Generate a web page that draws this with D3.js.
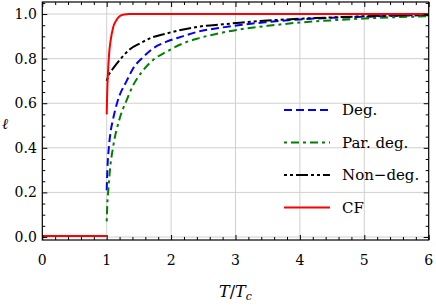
<!DOCTYPE html>
<html>
<head>
<meta charset="utf-8">
<script src="https://cdn.jsdelivr.net/npm/d3@7/dist/d3.min.js"></script>
<style>
  html, body { margin: 0; padding: 0; background: #fff; }
  #chart { width: 436px; height: 307px; }
</style>
</head>
<body>
<div id="chart"></div>
<script>
// Chart data
const xTicks = [0, 1, 2, 3, 4, 5, 6];
const yTicks = [0, 0.2, 0.4, 0.6, 0.8, 1.0];
const yTickLabels = ['0.0', '0.2', '0.4', '0.6', '0.8', '1.0'];

// Deg. (blue dashed)
const degT = [1, 1.01, 1.03, 1.06, 1.1, 1.17, 1.31, 1.41, 1.57, 1.72, 1.93, 2.19, 2.42, 2.8, 3.07, 3.5, 4, 4.5, 5, 5.5, 6];
const degL = [0.21, 0.30, 0.39, 0.47, 0.53, 0.61, 0.70, 0.756, 0.808, 0.846, 0.876, 0.901, 0.921, 0.94, 0.951, 0.964, 0.976, 0.983, 0.988, 0.992, 0.995];

// Par. deg. (green dash-dot)
const parT = [1, 1.01, 1.025, 1.05, 1.1, 1.2, 1.31, 1.41, 1.57, 1.72, 1.93, 2.19, 2.42, 2.8, 3.07, 3.5, 4, 4.5, 5, 5.5, 6];
const parL = [0.07, 0.15, 0.21, 0.30, 0.405, 0.53, 0.614, 0.68, 0.749, 0.794, 0.831, 0.869, 0.891, 0.917, 0.931, 0.947, 0.962, 0.972, 0.98, 0.986, 0.99];

// Non-deg. (black dash-dot-dot)
const nonT = [1, 1.03, 1.1, 1.21, 1.36, 1.52, 1.67, 1.93, 2.19, 2.42, 2.8, 3.07, 3.5, 4, 4.5, 5, 5.5, 6];
const nonL = [0.70, 0.725, 0.756, 0.797, 0.842, 0.869, 0.891, 0.913, 0.931, 0.943, 0.954, 0.961, 0.971, 0.979, 0.985, 0.99, 0.994, 0.997];

// CF (red solid) - NaN splits the low branch from the high branch
const cfT = [0, 1, 1, 1, 1.008, 1.02, 1.04, 1.06, 1.1, 1.15, 1.2, 1.27, 1.35, 6];
const cfL = [0.005, 0.005, NaN, 0.55, 0.65, 0.74, 0.83, 0.88, 0.94, 0.972, 0.99, 0.998, 1.0, 1.0];

const series = [
  { name: 'Deg.', t: degT, l: degL, color: '#0000ff', dash: '8,4' },
  { name: 'Par. deg.', t: parT, l: parL, color: '#008000', dash: '3,4,8,4' },
  { name: 'Non\u2212deg.', t: nonT, l: nonL, color: '#000000', dash: '3,3,3,3,12,3' },
  { name: 'CF', t: cfT, l: cfL, color: '#ff0000', dash: null }
];

// no serif face in the sandbox, so this ends up on DejaVu Sans
const FONT = "'DejaVu Serif', 'Liberation Serif', 'DejaVu Sans', serif";

const W = 436, H = 307;
const margin = { top: 2, right: 7.3, bottom: 67, left: 42.3 };
const width = W - margin.left - margin.right;
const height = H - margin.top - margin.bottom;

const x = d3.scaleLinear().domain([0, 6]).range([0, width]);
const y = d3.scaleLinear().domain([-0.0135, 1.054]).range([height, 0]);

const svg = d3.select('#chart').append('svg')
  .attr('width', W)
  .attr('height', H)
  .attr('font-family', FONT);

const g = svg.append('g').attr('transform', `translate(${margin.left},${margin.top})`);

// Grid
g.append('g')
  .selectAll('line')
  .data(xTicks.slice(1, -1))
  .enter()
  .append('line')
  .attr('x1', d => x(d)).attr('x2', d => x(d))
  .attr('y1', 0).attr('y2', height)
  .attr('stroke', '#d0d0d0').attr('stroke-width', 1);
g.append('g')
  .selectAll('line')
  .data(yTicks)
  .enter()
  .append('line')
  .attr('x1', 0).attr('x2', width)
  .attr('y1', d => y(d)).attr('y2', d => y(d))
  .attr('stroke', '#d0d0d0').attr('stroke-width', 1);

// Curves
const clip = svg.append('defs').append('clipPath').attr('id', 'plot-clip');
clip.append('rect').attr('width', width).attr('height', height);

const line = d3.line()
  .defined(d => !isNaN(d[1]))
  .x(d => x(d[0]))
  .y(d => y(d[1]))
  .curve(d3.curveMonotoneX);

g.append('g')
  .attr('clip-path', 'url(#plot-clip)')
  .selectAll('path')
  .data(series)
  .enter()
  .append('path')
  .attr('d', s => line(s.t.map((t, i) => [t, s.l[i]])))
  .attr('fill', 'none')
  .attr('stroke', s => s.color)
  .attr('stroke-width', 2)
  .attr('stroke-dasharray', s => s.dash);

// Axes: ticks inward on all four sides
const xMinor = d3.range(0, 6.001, 0.2).filter(v => Math.abs(v - Math.round(v)) > 1e-6);
const yMinor = d3.range(0, 1.051, 0.05).filter(v => Math.abs(v * 5 - Math.round(v * 5)) > 1e-6);

function styleAxis(sel) {
  sel.select('.domain').remove();
  sel.selectAll('line').attr('stroke', '#000').attr('stroke-width', 1);
  sel.selectAll('text').remove();
}

[[d3.axisBottom, height], [d3.axisTop, 0]].forEach(([ax, pos]) => {
  g.append('g').attr('transform', `translate(0,${pos})`)
    .call(ax(x).tickValues(xTicks).tickSize(-5))
    .call(styleAxis);
  g.append('g').attr('transform', `translate(0,${pos})`)
    .call(ax(x).tickValues(xMinor).tickSize(-3))
    .call(styleAxis);
});
[[d3.axisLeft, 0], [d3.axisRight, width]].forEach(([ax, pos]) => {
  g.append('g').attr('transform', `translate(${pos},0)`)
    .call(ax(y).tickValues(yTicks).tickSize(-5))
    .call(styleAxis);
  g.append('g').attr('transform', `translate(${pos},0)`)
    .call(ax(y).tickValues(yMinor).tickSize(-3))
    .call(styleAxis);
});

// Frame
g.append('rect')
  .attr('width', width).attr('height', height)
  .attr('fill', 'none').attr('stroke', '#000').attr('stroke-width', 1.2);

// Tick labels
g.append('g')
  .selectAll('text')
  .data(xTicks)
  .enter()
  .append('text')
  .attr('x', d => x(d))
  .attr('y', height + 25)
  .attr('text-anchor', 'middle')
  .attr('font-size', 14)
  .text(d => d);
g.append('g')
  .selectAll('text')
  .data(yTicks)
  .enter()
  .append('text')
  .attr('x', -5.5)
  .attr('y', d => y(d))
  .attr('dy', '0.35em')
  .attr('text-anchor', 'end')
  .attr('font-size', 14)
  .text((d, i) => yTickLabels[i]);

// Axis labels
const xl = svg.append('text')
  .attr('x', margin.left + width / 2)
  .attr('y', 297)
  .attr('text-anchor', 'middle')
  .attr('font-size', 16);
xl.append('tspan').attr('font-style', 'italic').text('T');
xl.append('tspan').text('/');
xl.append('tspan').attr('font-style', 'italic').text('T');
xl.append('tspan').attr('font-style', 'italic').attr('font-size', 11).attr('dy', 3).text('c');

svg.append('text')
  .attr('x', 5)
  .attr('y', 124)
  .attr('dy', '0.35em')
  .attr('text-anchor', 'middle')
  .attr('font-size', 15)
  .attr('font-style', 'italic')
  .text('\u2113');

// Legend
const legend = svg.append('g').attr('transform', 'translate(284,110)');
const rows = legend.selectAll('g')
  .data(series)
  .enter()
  .append('g')
  .attr('transform', (d, i) => `translate(0,${i * 32.5})`);
rows.append('line')
  .attr('x1', 0).attr('x2', 46)
  .attr('stroke', d => d.color)
  .attr('stroke-width', 2)
  .attr('stroke-dasharray', d => d.dash);
rows.append('text')
  .attr('x', 58)
  .attr('dy', '0.35em')
  .attr('font-size', 15)
  .text(d => d.name);
</script>
</body>
</html>
